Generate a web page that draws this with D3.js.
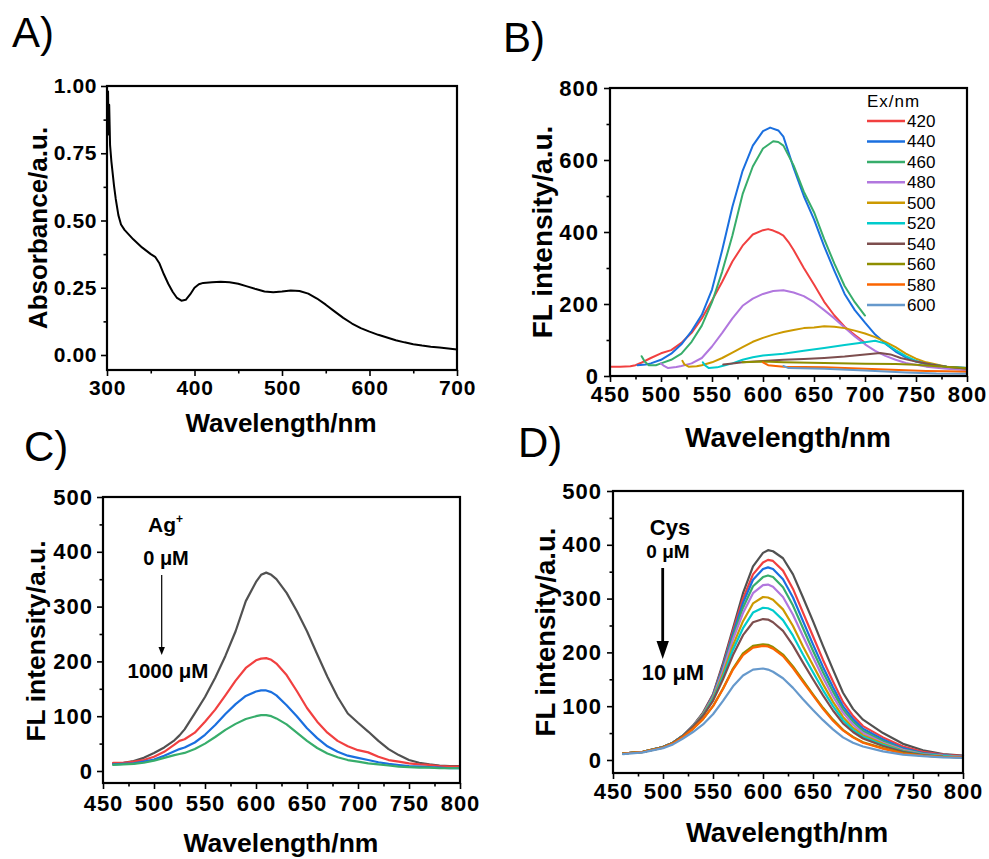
<!DOCTYPE html>
<html>
<head>
<meta charset="utf-8">
<script src="https://cdn.jsdelivr.net/npm/d3@7"></script>
<style>
  body { margin: 0; background: #fff; }
  svg { display: block; }
  text { font-family: "Liberation Sans", Arial, Helvetica, sans-serif; fill: #000; }
</style>
</head>
<body>
<svg id="fig" width="989" height="859"></svg>
<script>
// ---------- Panel A: UV-vis absorbance ----------
const absWavelength = [300, 300.6, 301.2, 301.8, 302.5, 303.5, 305, 306, 308, 310, 313, 316, 320, 330, 340, 350, 355, 360, 365, 370, 375, 380, 385, 390, 395, 400, 405, 410, 420, 430, 440, 450, 460, 470, 480, 490, 500, 510, 520, 530, 540, 550, 560, 570, 580, 590, 600, 610, 620, 630, 640, 650, 660, 670, 680, 690, 700];
const absValue = [0.99, 0.86, 0.98, 0.82, 0.93, 0.78, 0.72, 0.69, 0.63, 0.58, 0.52, 0.485, 0.465, 0.43, 0.40, 0.375, 0.365, 0.34, 0.30, 0.265, 0.235, 0.212, 0.202, 0.205, 0.225, 0.25, 0.263, 0.268, 0.27, 0.272, 0.27, 0.265, 0.255, 0.245, 0.236, 0.233, 0.236, 0.24, 0.238, 0.228, 0.21, 0.187, 0.162, 0.138, 0.117, 0.1, 0.087, 0.075, 0.065, 0.055, 0.047, 0.04, 0.035, 0.031, 0.028, 0.024, 0.02];
const absYTicks = [0, 0.25, 0.5, 0.75, 1.0];
const absXTicks = [300, 400, 500, 600, 700];

// ---------- Panel B: emission at different excitation wavelengths ----------
const exLabels = ["420", "440", "460", "480", "500", "520", "540", "560", "580", "600"];
const exCurves = [
  [[450,26],[460,26],[470,27],[475,30],[480,36],[490,50],[500,63],[510,72],[520,92],[530,120],[540,160],[550,210],[560,262],[570,318],[580,362],[590,393],[600,405],[605,408],[610,404],[615,398],[620,390],[625,372],[630,350],[640,300],[650,254],[660,206],[670,168],[680,137],[690,114],[700,92]],
  [[477,30],[485,32],[490,35],[500,45],[510,62],[520,88],[530,125],[540,170],[550,240],[560,350],[570,470],[580,570],[590,640],[600,680],[607,690],[615,682],[620,665],[630,578],[640,500],[650,435],[660,360],[670,292],[680,228],[690,183],[700,148],[710,115],[720,90],[730,68],[740,52],[750,40],[760,33],[780,26],[800,22]],
  [[481,55],[484,40],[488,30],[495,30],[500,35],[510,45],[520,62],[530,95],[540,140],[550,205],[560,290],[570,390],[580,505],[590,582],[600,632],[610,652],[615,650],[620,640],[630,585],[640,512],[650,455],[660,380],[670,312],[680,250],[690,205],[700,168]],
  [[500,35],[503,28],[507,22],[515,25],[520,28],[530,35],[540,50],[550,82],[560,120],[570,160],[580,195],[590,215],[600,228],[610,236],[620,238],[630,232],[640,222],[650,205],[660,183],[670,160],[680,135],[690,110],[700,88],[710,70],[720,56],[730,45],[740,36],[760,26],[780,20],[800,16]],
  [[521,42],[523,32],[527,26],[535,27],[540,30],[550,38],[560,50],[570,65],[580,80],[590,95],[600,106],[610,115],[620,122],[630,128],[640,133],[650,135],[660,138],[670,137],[680,133],[690,126],[700,118],[710,108],[720,95],[730,80],[740,62],[750,48],[760,38],[780,26],[800,20]],
  [[541,38],[543,30],[547,22],[555,24],[560,28],[570,35],[580,45],[590,52],[600,57],[620,62],[640,70],[660,78],[680,86],[700,94],[710,98],[720,90],[730,72],[740,55],[750,42],[760,34],[780,26],[800,22]],
  [[561,32],[570,35],[580,38],[600,42],[620,45],[640,47],[660,50],[680,54],[700,60],[715,64],[725,60],[735,50],[750,40],[765,32],[780,26],[800,20]],
  [[580,38],[600,40],[620,38],[660,36],[700,34],[730,33],[750,31],[770,27],[800,22]],
  [[600,38],[605,30],[620,26],[660,24],[700,20],[740,16],[760,14],[780,13],[800,12]],
  [[620,28],[625,22],[660,20],[700,15],[740,10],[770,7],[800,6]]
];
const flYTicksB = [0, 200, 400, 600, 800];
const emXTicks = [450, 500, 550, 600, 650, 700, 750, 800];

// ---------- Panel C: quenching by Ag+ ----------
const agWavelength = [460, 470, 480, 490, 500, 510, 520, 525, 530, 540, 550, 560, 570, 580, 590, 600, 605, 610, 615, 620, 630, 640, 650, 660, 670, 680, 690, 700, 710, 720, 730, 740, 750, 760, 770, 780, 790, 800];
const ag0 = [14, 15, 18, 24, 33, 43, 56, 65, 76, 105, 135, 170, 210, 255, 310, 345, 358, 362, 358, 350, 325, 292, 255, 213, 172, 135, 105, 88, 72, 55, 40, 29, 20, 15, 12, 10, 9, 9];
const agA = [15, 15, 17, 20, 26, 35, 48, 55, 58, 70, 90, 112, 138, 165, 188, 202, 205, 206, 203, 196, 175, 146, 115, 90, 70, 55, 45, 38, 34, 26, 20, 17, 14, 12, 11, 9, 8, 8];
const agB = [12, 13, 14, 17, 21, 28, 36, 40, 43, 52, 66, 84, 104, 122, 137, 145, 147, 147, 144, 138, 120, 100, 78, 60, 45, 35, 28, 24, 20, 16, 13, 11, 9, 8, 7, 6, 5, 5];
const agC = [11, 12, 13, 15, 19, 24, 29, 31, 33, 40, 50, 62, 75, 86, 95, 100, 102, 102, 100, 96, 85, 70, 55, 42, 32, 25, 20, 17, 14, 12, 10, 8, 7, 6, 6, 5, 5, 5];
const flYTicksCD = [0, 100, 200, 300, 400, 500];

// ---------- Panel D: recovery by Cys ----------
const cysWavelength = [460, 480, 500, 510, 520, 530, 540, 550, 560, 570, 580, 590, 600, 605, 610, 620, 630, 640, 650, 660, 670, 680, 690, 700, 720, 740, 760, 780, 800];
const cysCurves = [
  [12, 15, 24, 32, 45, 64, 88, 122, 180, 245, 310, 360, 385, 390, 388, 375, 345, 302, 258, 212, 168, 125, 95, 75, 50, 30, 18, 11, 8],
  [12, 15, 24, 32, 45, 63, 86, 121, 176, 240, 300, 345, 367, 372, 370, 352, 318, 274, 230, 186, 146, 108, 82, 63, 42, 25, 15, 10, 7],
  [12, 15, 24, 32, 45, 63, 85, 120, 173, 235, 292, 335, 355, 358, 355, 336, 302, 258, 215, 173, 135, 100, 76, 58, 38, 22, 13, 9, 6],
  [12, 15, 24, 32, 45, 63, 85, 118, 170, 230, 283, 323, 340, 343, 340, 321, 287, 245, 203, 163, 127, 94, 71, 54, 35, 20, 12, 8, 6],
  [12, 15, 24, 32, 45, 63, 85, 117, 167, 224, 273, 310, 325, 326, 322, 303, 270, 230, 191, 153, 118, 88, 66, 50, 32, 19, 11, 8, 6],
  [12, 15, 24, 32, 45, 62, 84, 115, 160, 213, 258, 291, 303, 302, 298, 280, 249, 211, 176, 141, 108, 80, 60, 46, 30, 17, 10, 7, 5],
  [12, 15, 24, 32, 45, 62, 83, 113, 155, 205, 245, 274, 283, 282, 278, 260, 231, 196, 163, 130, 100, 74, 56, 43, 28, 16, 10, 7, 5],
  [12, 15, 24, 32, 45, 62, 82, 110, 150, 195, 232, 256, 262, 261, 256, 240, 213, 181, 150, 120, 92, 68, 52, 40, 26, 15, 9, 6, 5],
  [12, 15, 23, 31, 43, 58, 76, 100, 133, 170, 198, 212, 215, 214, 210, 196, 174, 148, 122, 97, 75, 56, 43, 33, 22, 13, 8, 6, 5],
  [12, 15, 23, 31, 43, 58, 76, 100, 132, 168, 195, 209, 212, 211, 207, 193, 171, 145, 120, 95, 73, 55, 42, 32, 21, 12, 8, 6, 5],
  [11, 14, 22, 29, 40, 52, 66, 85, 110, 137, 157, 168, 170, 168, 164, 152, 134, 113, 93, 74, 57, 42, 32, 25, 16, 10, 7, 5, 4]
];

// Origin-style line palette
const palette = ["#515151", "#F14040", "#1A6FDF", "#37AD6B", "#B177DE", "#CC9900", "#00CBCC", "#7D4E4E", "#8E8E00", "#FB6501", "#6699CC"];

const svg = d3.select("#fig");

function range(a, b, step) {
  const out = [];
  for (let v = a; v <= b + 1e-9; v += step) out.push(+v.toFixed(6));
  return out;
}

// Draws frame, major/minor ticks and axis titles; returns the scales
function panel(cfg) {
  const g = svg.append("g");
  const x = d3.scaleLinear().domain(cfg.xDomain).range([cfg.left, cfg.right]);
  const y = d3.scaleLinear().domain(cfg.yDomain).range([cfg.bottom, cfg.top]);

  const style = (sel) => {
    sel.select(".domain").remove();
    sel.selectAll("line").attr("stroke", "#000").attr("stroke-width", 1.6);
    sel.selectAll("text")
      .attr("font-size", cfg.tickFont)
      .attr("font-weight", "bold")
      .attr("letter-spacing", cfg.tickSpacing)
      .attr("fill", "#000");
  };

  g.append("g").attr("transform", `translate(0,${cfg.bottom})`)
    .call(d3.axisBottom(x).tickValues(cfg.xMinor).tickSize(3.5).tickFormat(""))
    .call(style);
  g.append("g").attr("transform", `translate(0,${cfg.bottom})`)
    .call(d3.axisBottom(x).tickValues(cfg.xTicks).tickSize(6).tickPadding(cfg.xPad).tickFormat(cfg.xFormat))
    .call(style);
  g.append("g").attr("transform", `translate(${cfg.left},0)`)
    .call(d3.axisLeft(y).tickValues(cfg.yMinor).tickSize(3.5).tickFormat(""))
    .call(style);
  g.append("g").attr("transform", `translate(${cfg.left},0)`)
    .call(d3.axisLeft(y).tickValues(cfg.yTicks).tickSize(6).tickPadding(cfg.yPad).tickFormat(cfg.yFormat))
    .call(style);

  // panel letter
  g.append("text").attr("x", cfg.letter[0]).attr("y", cfg.letter[1])
    .attr("font-size", 42).text(cfg.letterText);

  // axis titles
  g.append("text").attr("x", cfg.xTitle[0]).attr("y", cfg.xTitle[1])
    .attr("text-anchor", "middle").attr("font-weight", "bold")
    .attr("font-size", cfg.xTitle[2]).text("Wavelength/nm");
  g.append("text")
    .attr("transform", `translate(${cfg.yTitle[0]},${cfg.yTitle[1]}) rotate(-90)`)
    .attr("text-anchor", "middle").attr("font-weight", "bold")
    .attr("font-size", cfg.yTitle[2]).text(cfg.yTitleText);

  const plot = g.append("g");
  const frame = () => g.append("rect")
    .attr("x", cfg.left).attr("y", cfg.top)
    .attr("width", cfg.right - cfg.left).attr("height", cfg.bottom - cfg.top)
    .attr("fill", "none").attr("stroke", "#000").attr("stroke-width", 2.2);
  return { g, plot, x, y, frame };
}

function drawLine(p, pts, color, width) {
  const line = d3.line().x(d => p.x(d[0])).y(d => p.y(d[1]));
  p.plot.append("path").datum(pts)
    .attr("d", line).attr("fill", "none")
    .attr("stroke", color).attr("stroke-width", width)
    .attr("stroke-linejoin", "round").attr("stroke-linecap", "round");
}

// ---------- A ----------
const pA = panel({
  left: 107, right: 457, top: 86, bottom: 370,
  xDomain: [300, 700], yDomain: [-0.0558, 1.0],
  xTicks: absXTicks, xMinor: range(350, 650, 100), xFormat: d3.format("d"),
  yTicks: absYTicks, yMinor: range(0.125, 0.875, 0.25), yFormat: d3.format(".2f"),
  tickFont: 21, tickSpacing: 0.6, xPad: 4, yPad: 4,
  letter: [12, 47], letterText: "A)",
  xTitle: [281, 432, 26], yTitle: [47, 228, 26], yTitleText: "Absorbance/a.u."
});
drawLine(pA, absWavelength.map((w, i) => [w, absValue[i]]), "#000", 2);
pA.frame();

// ---------- B ----------
const pB = panel({
  left: 610, right: 967, top: 88, bottom: 376,
  xDomain: [450, 800], yDomain: [0, 800],
  xTicks: emXTicks, xMinor: range(475, 775, 50), xFormat: d3.format("d"),
  yTicks: flYTicksB, yMinor: range(100, 700, 200), yFormat: d3.format("d"),
  tickFont: 22, tickSpacing: 1, xPad: 4.5, yPad: 5,
  letter: [503, 52], letterText: "B)",
  xTitle: [788, 447, 28], yTitle: [552, 232, 28], yTitleText: "FL intensity/a.u."
});
exCurves.forEach((pts, i) => drawLine(pB, pts, palette[i + 1], 2));
pB.frame();

// legend
const legB = pB.g.append("g");
legB.append("text").attr("x", 867).attr("y", 107).attr("font-size", 17)
  .attr("letter-spacing", 1).text("Ex/nm");
exLabels.forEach((lab, i) => {
  const yy = 121 + i * 20.44;
  legB.append("line").attr("x1", 867).attr("x2", 905).attr("y1", yy).attr("y2", yy)
    .attr("stroke", palette[i + 1]).attr("stroke-width", 2.5);
  legB.append("text").attr("x", 907).attr("y", yy + 6).attr("font-size", 17).text(lab);
});

// ---------- C ----------
const pC = panel({
  left: 103, right: 460, top: 497, bottom: 783,
  xDomain: [450, 800], yDomain: [-21.9, 500],
  xTicks: emXTicks, xMinor: range(475, 775, 50), xFormat: d3.format("d"),
  yTicks: flYTicksCD, yMinor: range(50, 450, 100), yFormat: d3.format("d"),
  tickFont: 22, tickSpacing: 1, xPad: 6, yPad: 4,
  letter: [24, 461], letterText: "C)",
  xTitle: [281, 852, 26.5], yTitle: [45, 641, 26.5], yTitleText: "FL intensity/a.u."
});
[ag0, agA, agB, agC].forEach((vals, i) =>
  drawLine(pC, agWavelength.map((w, j) => [w, vals[j]]), palette[i], 2.2));
pC.frame();

const annC = pC.g.append("g").attr("font-weight", "bold");
const agText = annC.append("text").attr("x", 148).attr("y", 532).attr("font-size", 21);
agText.append("tspan").text("Ag");
agText.append("tspan").attr("font-size", 12).attr("dy", -9).text("+");
annC.append("text").attr("x", 166).attr("y", 565).attr("font-size", 20)
  .attr("text-anchor", "middle").text("0 μM");
annC.append("line").attr("x1", 161.7).attr("x2", 161.7).attr("y1", 575).attr("y2", 648)
  .attr("stroke", "#000").attr("stroke-width", 1.2);
annC.append("path").attr("d", "M158.5,647 L164.9,647 L161.7,655 Z").attr("fill", "#000");
annC.append("text").attr("x", 168).attr("y", 678).attr("font-size", 20.5)
  .attr("text-anchor", "middle").text("1000 μM");

// ---------- D ----------
const pD = panel({
  left: 613, right: 963, top: 491, bottom: 773,
  xDomain: [450, 800], yDomain: [-24.2, 500],
  xTicks: emXTicks, xMinor: range(475, 775, 50), xFormat: d3.format("d"),
  yTicks: flYTicksCD, yMinor: range(50, 450, 100), yFormat: d3.format("d"),
  tickFont: 22, tickSpacing: 1, xPad: 4, yPad: 5,
  letter: [518, 457], letterText: "D)",
  xTitle: [787, 842, 27.5], yTitle: [555, 632, 27.5], yTitleText: "FL intensity/a.u."
});
cysCurves.forEach((vals, i) =>
  drawLine(pD, cysWavelength.map((w, j) => [w, vals[j]]), palette[i], 2.2));
pD.frame();

const annD = pD.g.append("g").attr("font-weight", "bold");
annD.append("text").attr("x", 670).attr("y", 535).attr("font-size", 22)
  .attr("text-anchor", "middle").text("Cys");
annD.append("text").attr("x", 668).attr("y", 558).attr("font-size", 19)
  .attr("text-anchor", "middle").text("0 μM");
annD.append("line").attr("x1", 662.7).attr("x2", 662.7).attr("y1", 568).attr("y2", 645)
  .attr("stroke", "#000").attr("stroke-width", 2.8);
annD.append("path").attr("d", "M656.5,641 L668.9,641 L662.7,659 Z").attr("fill", "#000");
annD.append("text").attr("x", 673).attr("y", 680).attr("font-size", 22)
  .attr("text-anchor", "middle").text("10 μM");
</script>
</body>
</html>
